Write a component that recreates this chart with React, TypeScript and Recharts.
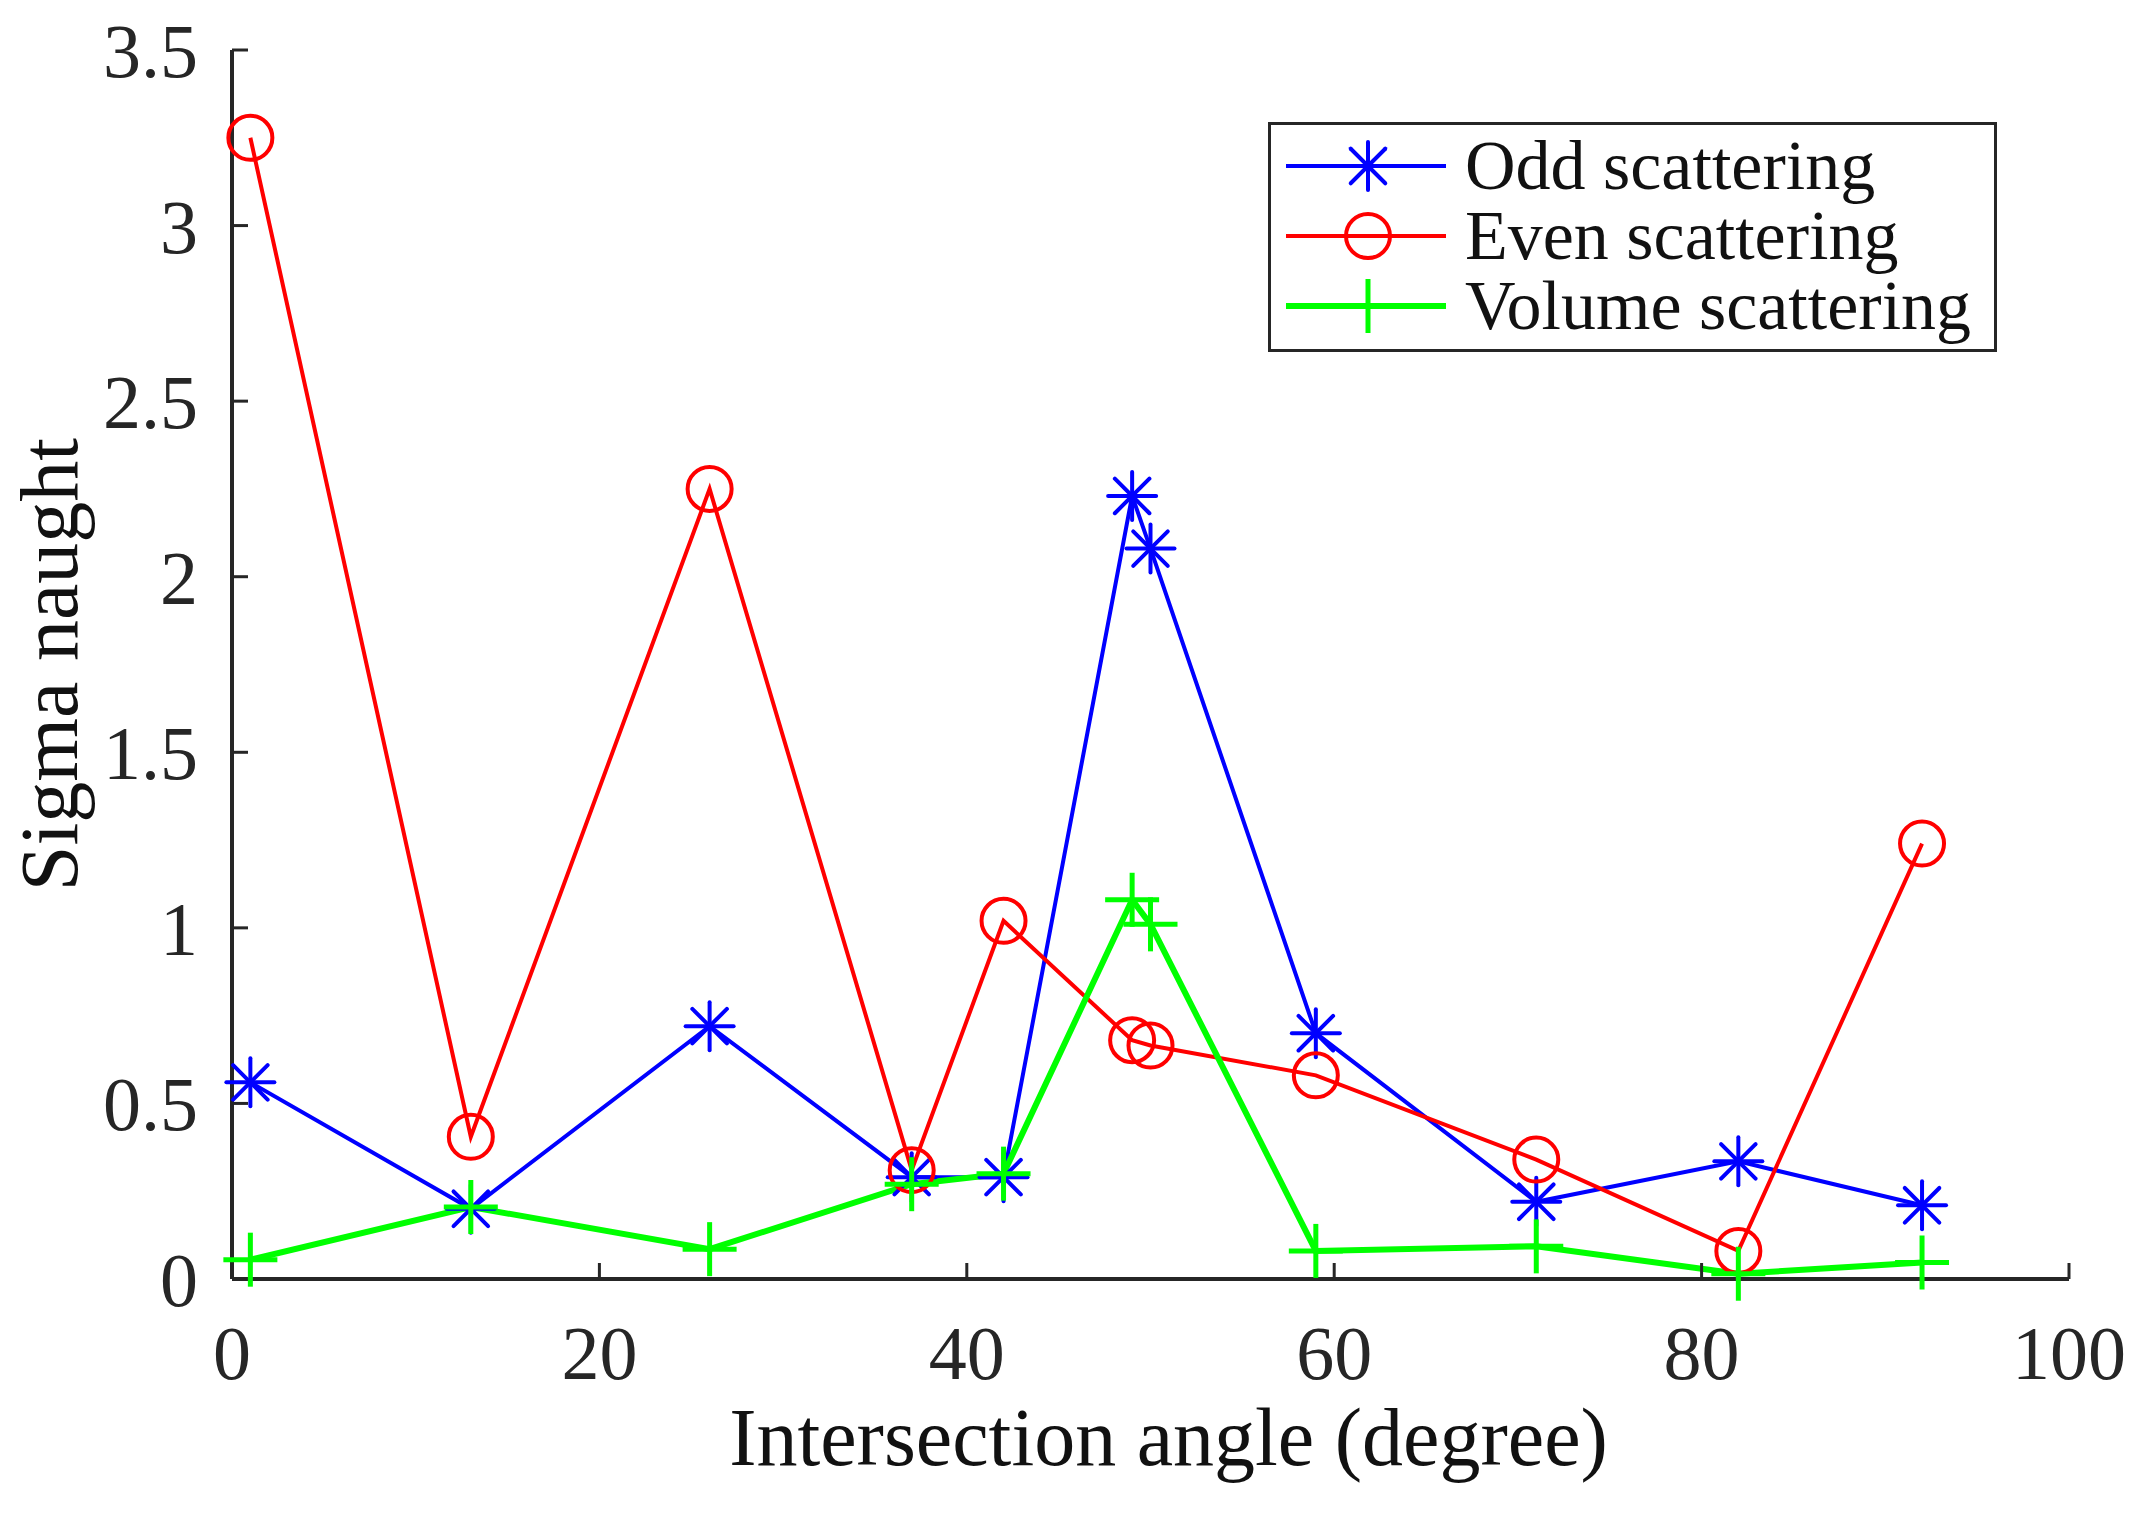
import React from "react";
import { LineChart, Line, XAxis, YAxis, Legend, Label } from "recharts";

const angles = [1, 13, 26, 37, 42, 49, 50, 59, 71, 82, 92];
const oddValues = [0.56, 0.2, 0.72, 0.29, 0.29, 2.23, 2.08, 0.7, 0.22, 0.335, 0.21];
const evenValues = [3.25, 0.405, 2.25, 0.31, 1.02, 0.68, 0.665, 0.58, 0.34, 0.08, 1.24];
const volumeValues = [0.055, 0.205, 0.085, 0.27, 0.3, 1.08, 1.01, 0.08, 0.093, 0.015, 0.047];
const xTicks = [0, 20, 40, 60, 80, 100];
const yTicks = [0, 0.5, 1, 1.5, 2, 2.5, 3, 3.5];

const data = angles.map((a, i) => ({
  angle: a,
  odd: oddValues[i],
  even: evenValues[i],
  volume: volumeValues[i],
}));

const FONT = "'Liberation Serif', 'DejaVu Serif', serif";
const AXIS = "#262626";

function Asterisk({ cx, cy, color, r = 24 }) {
  const d = r * 0.72;
  return (
    <g stroke={color} strokeWidth={4} strokeLinecap="round">
      <line x1={cx - r} y1={cy} x2={cx + r} y2={cy} />
      <line x1={cx} y1={cy - r} x2={cx} y2={cy + r} />
      <line x1={cx - d} y1={cy - d} x2={cx + d} y2={cy + d} />
      <line x1={cx - d} y1={cy + d} x2={cx + d} y2={cy - d} />
    </g>
  );
}

function Circle({ cx, cy, color, r = 22 }) {
  return <circle cx={cx} cy={cy} r={r} fill="none" stroke={color} strokeWidth={4} />;
}

function Plus({ cx, cy, color, r = 27 }) {
  return (
    <g stroke={color} strokeWidth={5}>
      <line x1={cx - r} y1={cy} x2={cx + r} y2={cy} />
      <line x1={cx} y1={cy - r} x2={cx} y2={cy + r} />
    </g>
  );
}

const series = [
  { key: "odd", name: "Odd scattering", color: "#0000FF", width: 4, Marker: Asterisk },
  { key: "even", name: "Even scattering", color: "#FF0000", width: 4, Marker: Circle },
  { key: "volume", name: "Volume scattering", color: "#00FF00", width: 6, Marker: Plus },
];

function LegendBox() {
  return (
    <div
      style={{
        border: `3px solid ${AXIS}`,
        background: "#fff",
        width: 723,
        height: 218,
        boxSizing: "content-box",
        paddingTop: 6,
        fontFamily: FONT,
        fontSize: 70,
        color: "#111",
      }}
    >
      {series.map((s) => (
        <div key={s.key} style={{ height: 70, display: "flex", alignItems: "center" }}>
          <svg width={194} height={70} style={{ flex: "none" }}>
            <line x1={15} y1={35} x2={175} y2={35} stroke={s.color} strokeWidth={s.width} />
            <s.Marker cx={97} cy={35} color={s.color} />
          </svg>
          <span style={{ whiteSpace: "nowrap", lineHeight: "70px" }}>{s.name}</span>
        </div>
      ))}
    </div>
  );
}

export default function App() {
  return (
    <div style={{ width: 2142, height: 1515, background: "#fff" }}>
      <style>{"body{margin:0}"}</style>
      <LineChart
        width={2142}
        height={1515}
        data={data}
        margin={{ top: 50, right: 73, left: 0, bottom: 0 }}
      >
        <XAxis
          dataKey="angle"
          type="number"
          domain={[0, 100]}
          ticks={xTicks}
          height={236}
          tickSize={-16}
          tickMargin={62}
          axisLine={{ stroke: AXIS, strokeWidth: 4 }}
          tickLine={{ stroke: AXIS, strokeWidth: 3 }}
          tick={{ fill: AXIS, fontSize: 76, fontFamily: FONT }}
        >
          <Label
            value="Intersection angle (degree)"
            position="insideBottom"
            offset={50}
            dx={18}
            style={{ fill: "#111", fontSize: 82, fontFamily: FONT }}
          />
        </XAxis>
        <YAxis
          type="number"
          domain={[0, 3.5]}
          ticks={yTicks}
          width={232}
          tickSize={-16}
          tickMargin={50}
          axisLine={{ stroke: AXIS, strokeWidth: 4 }}
          tickLine={{ stroke: AXIS, strokeWidth: 3 }}
          tick={{ fill: AXIS, fontSize: 76, fontFamily: FONT }}
        >
          <Label
            value="Sigma naught"
            angle={-90}
            position="insideLeft"
            offset={48}
            style={{ textAnchor: "middle", fill: "#111", fontSize: 82, fontFamily: FONT }}
          />
        </YAxis>
        <Legend
          layout="vertical"
          align="center"
          verticalAlign="middle"
          content={() => <LegendBox />}
          wrapperStyle={{ position: "absolute", top: 122, left: 1268, width: 729, height: 227 }}
        />
        {series.map((s) => (
          <Line
            key={s.key}
            dataKey={s.key}
            name={s.name}
            stroke={s.color}
            strokeWidth={s.width}
            isAnimationActive={false}
            activeDot={false}
            dot={(p) => <s.Marker key={`${s.key}-${p.index}`} cx={p.cx} cy={p.cy} color={s.color} />}
          />
        ))}
      </LineChart>
    </div>
  );
}
